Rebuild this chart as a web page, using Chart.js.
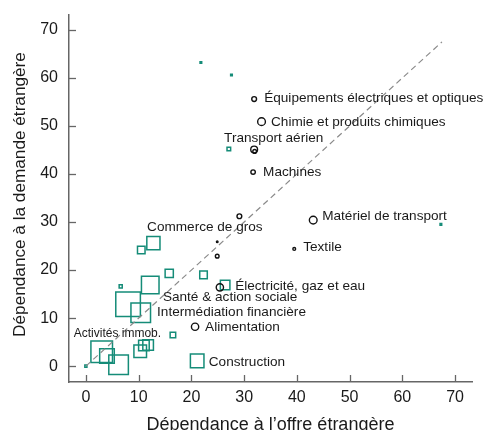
<!DOCTYPE html>
<html lang="fr">
<head>
<meta charset="utf-8">
<script src="https://cdn.jsdelivr.net/npm/chart.js@4.4.1/dist/chart.umd.min.js"></script>
<style>
  html, body { margin: 0; padding: 0; background: #fff; }
  #wrap { width: 487px; height: 430px; }
</style>
</head>
<body>
<div id="wrap"><canvas id="scatterChart" width="487" height="430"></canvas></div>
<script>
// Secteurs manufacturiers (cercles noirs)
const cercleX = [31.9, 33.3, 31.9, 32.0, 31.7, 43.1, 39.5, 29.1, 24.9, 24.9, 25.4, 20.7];
const cercleY = [55.6, 50.9, 45.1, 44.7, 40.4, 30.4, 24.4, 31.2, 25.9, 22.9, 16.4, 8.2];
const cerclePoids = [9, 20, 16, 6, 8, 20, 4, 9, 2, 6, 18, 18];

// Services (carres verts)
const carreX = [21.8, 27.6, 27.1, 67.3, 26.4, 12.8, 10.5, 15.8, 22.3, 12.2, 6.6, 8.0, 10.4, 16.5, 3.0, 4.0, 6.2, 10.3, 11.0, 11.8, 0.0, 21.1];
const carreY = [63.2, 60.6, 45.2, 29.5, 16.9, 25.6, 24.2, 19.3, 19.0, 16.9, 16.6, 12.9, 11.1, 6.5, 3.0, 2.1, 0.3, 3.1, 4.3, 4.4, 0.0, 1.1];
const carrePoids = [2.3, 2.3, 6.3, 2.3, 30, 53, 20, 23, 20, 90, 5, 169, 110, 12, 132, 64, 110, 49, 36, 36, 3, 56];

// Etiquettes
const etiquettes = ['Équipements électriques et optiques', 'Chimie et produits chimiques', 'Transport aérien',
    'Machines', 'Matériel de transport', 'Textile', 'Commerce de gros', 'Électricité, gaz et eau',
    'Santé & action sociale', 'Intermédiation financière', 'Alimentation', 'Activités immob.', 'Construction'];
const etiquetteX = [33.8, 35.1, 26.2, 33.6, 44.8, 41.2, 11.6, 28.3, 14.6, 13.5, 22.6, -2.3, 23.3];
const etiquetteY = [55.0, 50.0, 46.7, 39.6, 30.4, 24.0, 28.2, 15.8, 13.6, 10.5, 7.4, 6.1, 0.0];

const ticksX = [0, 10, 20, 30, 40, 50, 60, 70];
const ticksY = [0, 10, 20, 30, 40, 50, 60, 70];
const diagonale = [0, 67.5];

const titreX = 'Dépendance à l’offre étrangère';
const titreY = 'Dépendance à la demande étrangère';

const teal = '#158c78';
const police = '"Liberation Sans", Arial, sans-serif';

const toPoints = (xs, ys) => xs.map((x, i) => ({ x: x, y: ys[i] }));

// plugin: ticks vers l'interieur, titres d'axes et etiquettes
const decor = {
    id: 'decor',
    afterDatasetsDraw(chart) {
        const ctx = chart.ctx;
        const sx = chart.scales.x, sy = chart.scales.y;
        const area = chart.chartArea;
        ctx.save();
        ctx.strokeStyle = '#666';
        ctx.lineWidth = 1.3;
        ticksX.forEach(v => {
            const px = Math.round(sx.getPixelForValue(v)) + 0.5;
            ctx.beginPath();
            ctx.moveTo(px, area.bottom);
            ctx.lineTo(px, area.bottom - 7);
            ctx.stroke();
        });
        ticksY.forEach(v => {
            const py = Math.round(sy.getPixelForValue(v)) + 0.5;
            ctx.beginPath();
            ctx.moveTo(area.left, py);
            ctx.lineTo(area.left + 7, py);
            ctx.stroke();
        });

        ctx.fillStyle = '#1a1a1a';
        ctx.textAlign = 'left';
        ctx.textBaseline = 'alphabetic';
        etiquettes.forEach((t, i) => {
            ctx.font = (t === 'Activités immob.' ? '12px ' : '13.6px ') + police;
            ctx.fillText(t, sx.getPixelForValue(etiquetteX[i]), sy.getPixelForValue(etiquetteY[i]));
        });

        ctx.textAlign = 'center';
        ctx.font = '18px ' + police;
        ctx.fillText(titreX, (area.left + area.right) / 2, area.bottom + 47.5);
        ctx.translate(25, (area.top + area.bottom) / 2 - 4);
        ctx.rotate(-Math.PI / 2);
        ctx.font = '17.2px ' + police;
        ctx.fillText(titreY, 0, 0);
        ctx.restore();
    }
};

const ctx = document.getElementById('scatterChart').getContext('2d');
new Chart(ctx, {
    type: 'scatter',
    data: {
        datasets: [
            {
                type: 'line',
                data: toPoints(diagonale, diagonale),
                borderColor: '#8a8a8a',
                borderWidth: 1.2,
                borderDash: [6, 4],
                pointRadius: 0,
                order: 0
            },
            {
                data: toPoints(cercleX, cercleY),
                pointStyle: 'circle',
                pointRadius: c => Math.max(0.8, Math.sqrt(cerclePoids[c.dataIndex]) - 0.6),
                borderColor: '#111',
                backgroundColor: 'rgba(0,0,0,0)',
                pointBorderWidth: 1.4,
                order: 1
            },
            {
                data: toPoints(carreX, carreY),
                pointStyle: 'rect',
                pointRadius: c => Math.SQRT2 * Math.max(0.8, Math.sqrt(carrePoids[c.dataIndex]) - 0.7),
                borderColor: teal,
                backgroundColor: 'rgba(0,0,0,0)',
                pointBorderWidth: 1.5,
                order: 2
            }
        ]
    },
    plugins: [decor],
    options: {
        responsive: false,
        animation: false,
        events: [],
        layout: { autoPadding: false, padding: { top: 15, right: 15, left: 0, bottom: 0 } },
        plugins: {
            legend: { display: false },
            tooltip: { enabled: false }
        },
        scales: {
            x: {
                type: 'linear',
                min: -3.2,
                max: 73.2,
                afterBuildTicks: s => { s.ticks = ticksX.map(v => ({ value: v })); },
                afterFit: s => { s.height = 48; s.paddingLeft = 0; s.paddingRight = 0; },
                grid: { display: false, drawTicks: false },
                border: { display: true, color: '#666', width: 1.5 },
                ticks: { padding: 6, color: '#1a1a1a', font: { family: police, size: 16 }, maxRotation: 0 }
            },
            y: {
                type: 'linear',
                min: -3.3,
                max: 73.1,
                afterBuildTicks: s => { s.ticks = ticksY.map(v => ({ value: v })); },
                afterFit: s => { s.width = 69; s.paddingTop = 0; s.paddingBottom = 0; },
                grid: { display: false, drawTicks: false },
                border: { display: true, color: '#666', width: 1.5 },
                ticks: { padding: 11, color: '#1a1a1a', font: { family: police, size: 16 } }
            }
        }
    }
});
</script>
</body>
</html>
